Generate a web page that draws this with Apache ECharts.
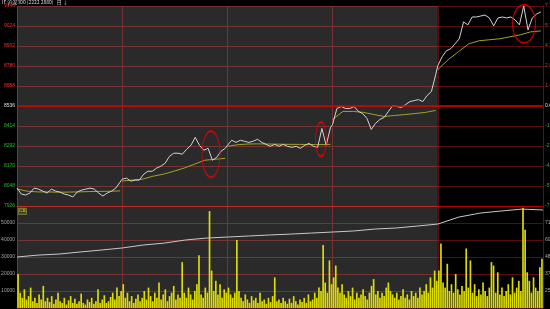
<!DOCTYPE html>
<html><head><meta charset="utf-8">
<style>html,body{margin:0;padding:0;background:#000;overflow:hidden}#c{width:550px;height:309px;}</style>
<script src="https://cdn.jsdelivr.net/npm/echarts@6/dist/echarts.min.js"></script>
</head><body><div id="c"></div>
<script>
// ---- data ----
const BASE = 8536;
const priceTicks = [7926, 8048, 8170, 8292, 8414, 8536, 8658, 8780, 8902, 9024, 9146];
const pctTicks = ['-7.15%', '-5.72%', '-4.29%', '-2.86%', '-1.43%', '0.00%', '1.43%', '2.86%', '4.29%', '5.72%', '7.15%'];
const volTicks = ['', '10000', '20000', '30000', '40000', '50000', ''];
const oiTicks = ['', '2590', '3740', '4890', '6040', '7190', ''];
const OI_BASE = 1440;

const day1Price = [8035, 7999, 7993, 8005, 8035, 8029, 8017, 8005, 8029, 8017, 8011, 7999, 7993, 7981, 8011, 8023, 8029, 8035, 8029, 8005, 7987, 8005, 8017, 8035, 8072];
const day2Price = [8090, 8096, 8078, 8084, 8084, 8120, 8138, 8138, 8157, 8169, 8187, 8229, 8248, 8248, 8242, 8272, 8296, 8345, 8296, 8266, 8278, 8205, 8223, 8260, 8278];
const day3Price = [8296, 8327, 8314, 8327, 8321, 8314, 8321, 8333, 8314, 8302, 8290, 8302, 8290, 8302, 8290, 8284, 8290, 8278, 8296, 8308, 8290, 8284, 8399, 8296, 8405];
const day4Price = [8424, 8521, 8533, 8521, 8521, 8533, 8503, 8490, 8460, 8393, 8430, 8454, 8466, 8503, 8539, 8533, 8527, 8545, 8563, 8569, 8575, 8563, 8600, 8624, 8727];
const day5Price = [8782, 8836, 8873, 8885, 8915, 8946, 9049, 9031, 9079, 9079, 9085, 9091, 9073, 9025, 9073, 9079, 9073, 9079, 9061, 9031, 9146, 9000, 9073, 9097, 9110];

const day1Avg = [8030, 8016, 8012, 8012, 8010, 8011, 8012, 8014, 8015, 8016, 8018];
const day2Avg = [8078, 8084, 8090, 8108, 8120, 8138, 8157, 8181, 8205, 8211, 8217];
const day3Avg = [8290, 8300, 8304, 8305, 8304, 8303, 8302, 8302, 8301, 8301, 8302];
const day4Avg = [8454, 8503, 8503, 8497, 8484, 8472, 8478, 8484, 8490, 8497, 8509];
const day5Avg = [8758, 8818, 8867, 8915, 8934, 8940, 8946, 8958, 8970, 8988, 8994];

const day1Vol = [20000, 9000, 6000, 11000, 5000, 7000, 12000, 4000, 6000, 3000, 8000, 5000, 13000, 4000, 6000, 3500, 7000, 2500, 5000, 9000, 4000, 3000, 6000, 2000, 4500, 7000, 3000, 5500, 2500, 4000, 8500, 3000, 2000, 5000, 3500, 6000, 2500, 4000, 11000, 3000, 5000, 7500, 3000, 4000, 6500, 9000, 5000, 12000, 7000, 10000];
const day2Vol = [14000, 6000, 9000, 4000, 7000, 3000, 5500, 8000, 4000, 6000, 10000, 5000, 12000, 7000, 4000, 9000, 6000, 15000, 5000, 8000, 11000, 4000, 7000, 9000, 13000, 5000, 8000, 6000, 27000, 9000, 6000, 12000, 8000, 5000, 10000, 14000, 31000, 8000, 6000, 12000, 9000, 57000, 22000, 10000, 16000, 8000, 14000, 6000, 11000, 9000];
const day3Vol = [12000, 8000, 6000, 9000, 40000, 10000, 6000, 4000, 8000, 5000, 3000, 7000, 4500, 6000, 3000, 9000, 4000, 5000, 2500, 6000, 3500, 7000, 18000, 4000, 5000, 3000, 6000, 4000, 2500, 5500, 3000, 7000, 4000, 2000, 5000, 3500, 6000, 3000, 8000, 4000, 5000, 9000, 6000, 12000, 10000, 37000, 15000, 9000, 28000, 14000];
const day4Vol = [18000, 25000, 12000, 9000, 14000, 8000, 6000, 10000, 7000, 12000, 5000, 9000, 6000, 8000, 11000, 7000, 5000, 9000, 13000, 17000, 8000, 10000, 6000, 9000, 7000, 12000, 15000, 10000, 8000, 6000, 9000, 5000, 7000, 11000, 6000, 8000, 5000, 10000, 7000, 9000, 6000, 12000, 8000, 10000, 14000, 9000, 18000, 12000, 22000, 16000];
const day5Vol = [22000, 38000, 15000, 12000, 26000, 10000, 14000, 9000, 20000, 11000, 8000, 13000, 10000, 35000, 12000, 28000, 9000, 14000, 7000, 11000, 8000, 15000, 10000, 7000, 12000, 27000, 25000, 9000, 21000, 8000, 12000, 7000, 10000, 14000, 8000, 18000, 9000, 12000, 16000, 10000, 59000, 46000, 21000, 16000, 9000, 18000, 12000, 10000, 24000, 29000];

// open interest, one value every 10 minutes
const oiValues = [4890, 5020, 5090, 5230, 5360, 5500, 5700, 5830, 6040, 6170, 6240, 6310, 6380, 6440, 6510, 6580, 6650, 6780, 6850, 6980, 7120, 7590, 7860, 8000, 8130, 8070];

// annotation ellipses (minute index, price)
const circledSpots = [[92.2, 8242], [144.5, 8333], [241, 9037]];

// ---- build ----
const DAY = 50;
const priceDays = [day1Price, day2Price, day3Price, day4Price, day5Price];
const avgDays = [day1Avg, day2Avg, day3Avg, day4Avg, day5Avg];
const pricePts = [];
priceDays.forEach((arr, d) => arr.forEach((v, i) => pricePts.push([d * DAY + i * 49 / (arr.length - 1), v - BASE])));
const avgSeries = avgDays.map((arr, d) => ({
  type: 'line', xAxisIndex: 0, yAxisIndex: 0, showSymbol: false, silent: true,
  lineStyle: { color: '#a3a325', width: 1 },
  data: arr.map((v, i) => [d * DAY + i * 49 / (arr.length - 1), v - BASE]), z: 3
}));
const volAll = [].concat(day1Vol, day2Vol, day3Vol, day4Vol, day5Vol);
const volCats = volAll.map((_, i) => String(i));
const oiPts = oiValues.map((v, i) => [i * 10, v - OI_BASE]);
const ellipseSizes = [[18, 46], [11, 34], [23, 38]];

const GRID = '#5a0c0c';
const FONT = 'Liberation Sans';
function priceLabel(v) {
  const k = Math.round((v + 610) / 122);
  const t = priceTicks[k];
  return k > 5 ? '{u|' + t + '}' : (k < 5 ? '{d|' + t + '}' : '{z|' + t + '}');
}
function pctLabel(v) {
  const k = Math.round((v + 610) / 122);
  const t = pctTicks[k];
  return k > 5 ? '{u|' + t + '}' : (k < 5 ? '{d|' + t + '}' : '{z|' + t + '}');
}
const rich = {
  u: { color: '#ff2b2b', fontSize: 5, fontFamily: FONT },
  d: { color: '#16c816', fontSize: 5, fontFamily: FONT },
  z: { color: '#e0e0e0', fontSize: 5, fontFamily: FONT }
};

const chart = echarts.init(document.getElementById('c'), null, { renderer: 'canvas' });
chart.setOption({
  animation: false,
  backgroundColor: '#000',
  grid: [
    { left: 17, right: 7, top: 6, height: 200, containLabel: false, outerBoundsMode: 'none' },
    { left: 17, right: 7, top: 206, height: 102, containLabel: false, outerBoundsMode: 'none' }
  ],
  xAxis: [
    { type: 'value', gridIndex: 0, min: 0, max: 250, interval: 50,
      axisLine: { show: true, onZero: false, lineStyle: { color: '#b00000', width: 1 } },
      axisTick: { show: false }, axisLabel: { show: false },
      splitLine: { show: true, lineStyle: { color: GRID, width: 1 } } },
    { type: 'category', gridIndex: 1, data: volCats, boundaryGap: true, show: false },
    { type: 'value', gridIndex: 1, min: 0, max: 250, interval: 50,
      axisLine: { show: false }, axisTick: { show: false }, axisLabel: { show: false },
      splitLine: { show: true, lineStyle: { color: GRID, width: 1 } } }
  ],
  yAxis: [
    { type: 'value', gridIndex: 0, min: -610, max: 610, interval: 122, position: 'left',
      axisLine: { show: true, lineStyle: { color: '#8a0000' } }, axisTick: { show: false },
      axisLabel: { margin: 2, formatter: priceLabel, rich: rich },
      splitLine: { show: true, lineStyle: { color: GRID, width: 1 } } },
    { type: 'value', gridIndex: 0, min: -610, max: 610, interval: 122, position: 'right',
      axisLine: { show: true, lineStyle: { color: '#8a0000' } }, axisTick: { show: false },
      axisLabel: { margin: 2, formatter: pctLabel, rich: rich },
      splitLine: { show: false } },
    { type: 'value', gridIndex: 1, min: 0, max: 60000, interval: 10000, position: 'left',
      axisLine: { show: true, lineStyle: { color: '#8a0000' } }, axisTick: { show: false },
      axisLabel: { margin: 2, color: '#a8a8a8', fontSize: 5, fontFamily: FONT,
        formatter: v => volTicks[Math.round(v / 10000)] },
      splitLine: { show: true, lineStyle: { color: GRID, width: 1 } } },
    { type: 'value', gridIndex: 1, min: 0, max: 6900, interval: 1150, position: 'right',
      axisLine: { show: true, lineStyle: { color: '#8a0000' } }, axisTick: { show: false },
      axisLabel: { margin: 2, color: '#a8a8a8', fontSize: 5, fontFamily: FONT,
        formatter: v => oiTicks[Math.round(v / 1150)] },
      splitLine: { show: false } }
  ],
  series: [
    { type: 'line', xAxisIndex: 0, yAxisIndex: 0, data: pricePts, showSymbol: false, silent: true,
      lineStyle: { color: '#d2d2d2', width: 1 }, z: 4,
      markArea: { silent: true, itemStyle: { color: 'rgba(255,255,255,0.165)' },
        data: [[{ xAxis: 0 }, { xAxis: 200 }]] },
      markLine: { silent: true, symbol: 'none', label: { show: false },
        lineStyle: { color: '#d40000', width: 1.6, type: 'solid' },
        data: [{ yAxis: 0 }] } },
    ...avgSeries,
    { type: 'scatter', xAxisIndex: 0, yAxisIndex: 0, silent: true, z: 6,
      data: circledSpots.map(p => [p[0], p[1] - BASE]),
      symbol: 'circle',
      symbolSize: (val, params) => ellipseSizes[params.dataIndex],
      itemStyle: { color: 'rgba(0,0,0,0)', borderColor: '#e80000', borderWidth: 1.4 } },
    { type: 'bar', xAxisIndex: 1, yAxisIndex: 2, data: volAll, barCategoryGap: '20%',
      silent: true, itemStyle: { color: '#dcdc00' }, z: 3 },
    { type: 'line', xAxisIndex: 2, yAxisIndex: 3, data: oiPts, showSymbol: false, silent: true,
      lineStyle: { color: '#c8c8c8', width: 1 }, z: 4,
      markArea: { silent: true, itemStyle: { color: 'rgba(255,255,255,0.165)' },
        data: [[{ xAxis: 0 }, { xAxis: 200 }]] } }
  ],
  graphic: [
    { type: 'text', left: 2, top: 0, z: 10,
      style: { text: 'IF 沪深300 (2222 2880)   日 ↓', fill: '#d8d8d8', font: '5px "Noto Sans CJK SC", sans-serif' } },
    { type: 'group', left: 18, top: 208, z: 10, children: [
      { type: 'rect', shape: { x: 0, y: 0, width: 8, height: 6 }, style: { fill: '#1a1a00', stroke: '#b0b000', lineWidth: 0.6 } },
      { type: 'text', left: 1, top: 0.6, style: { text: 'CJL', fill: '#e6e600', font: '4px "Liberation Sans"' } }
    ] }
  ]
});
</script></body></html>
